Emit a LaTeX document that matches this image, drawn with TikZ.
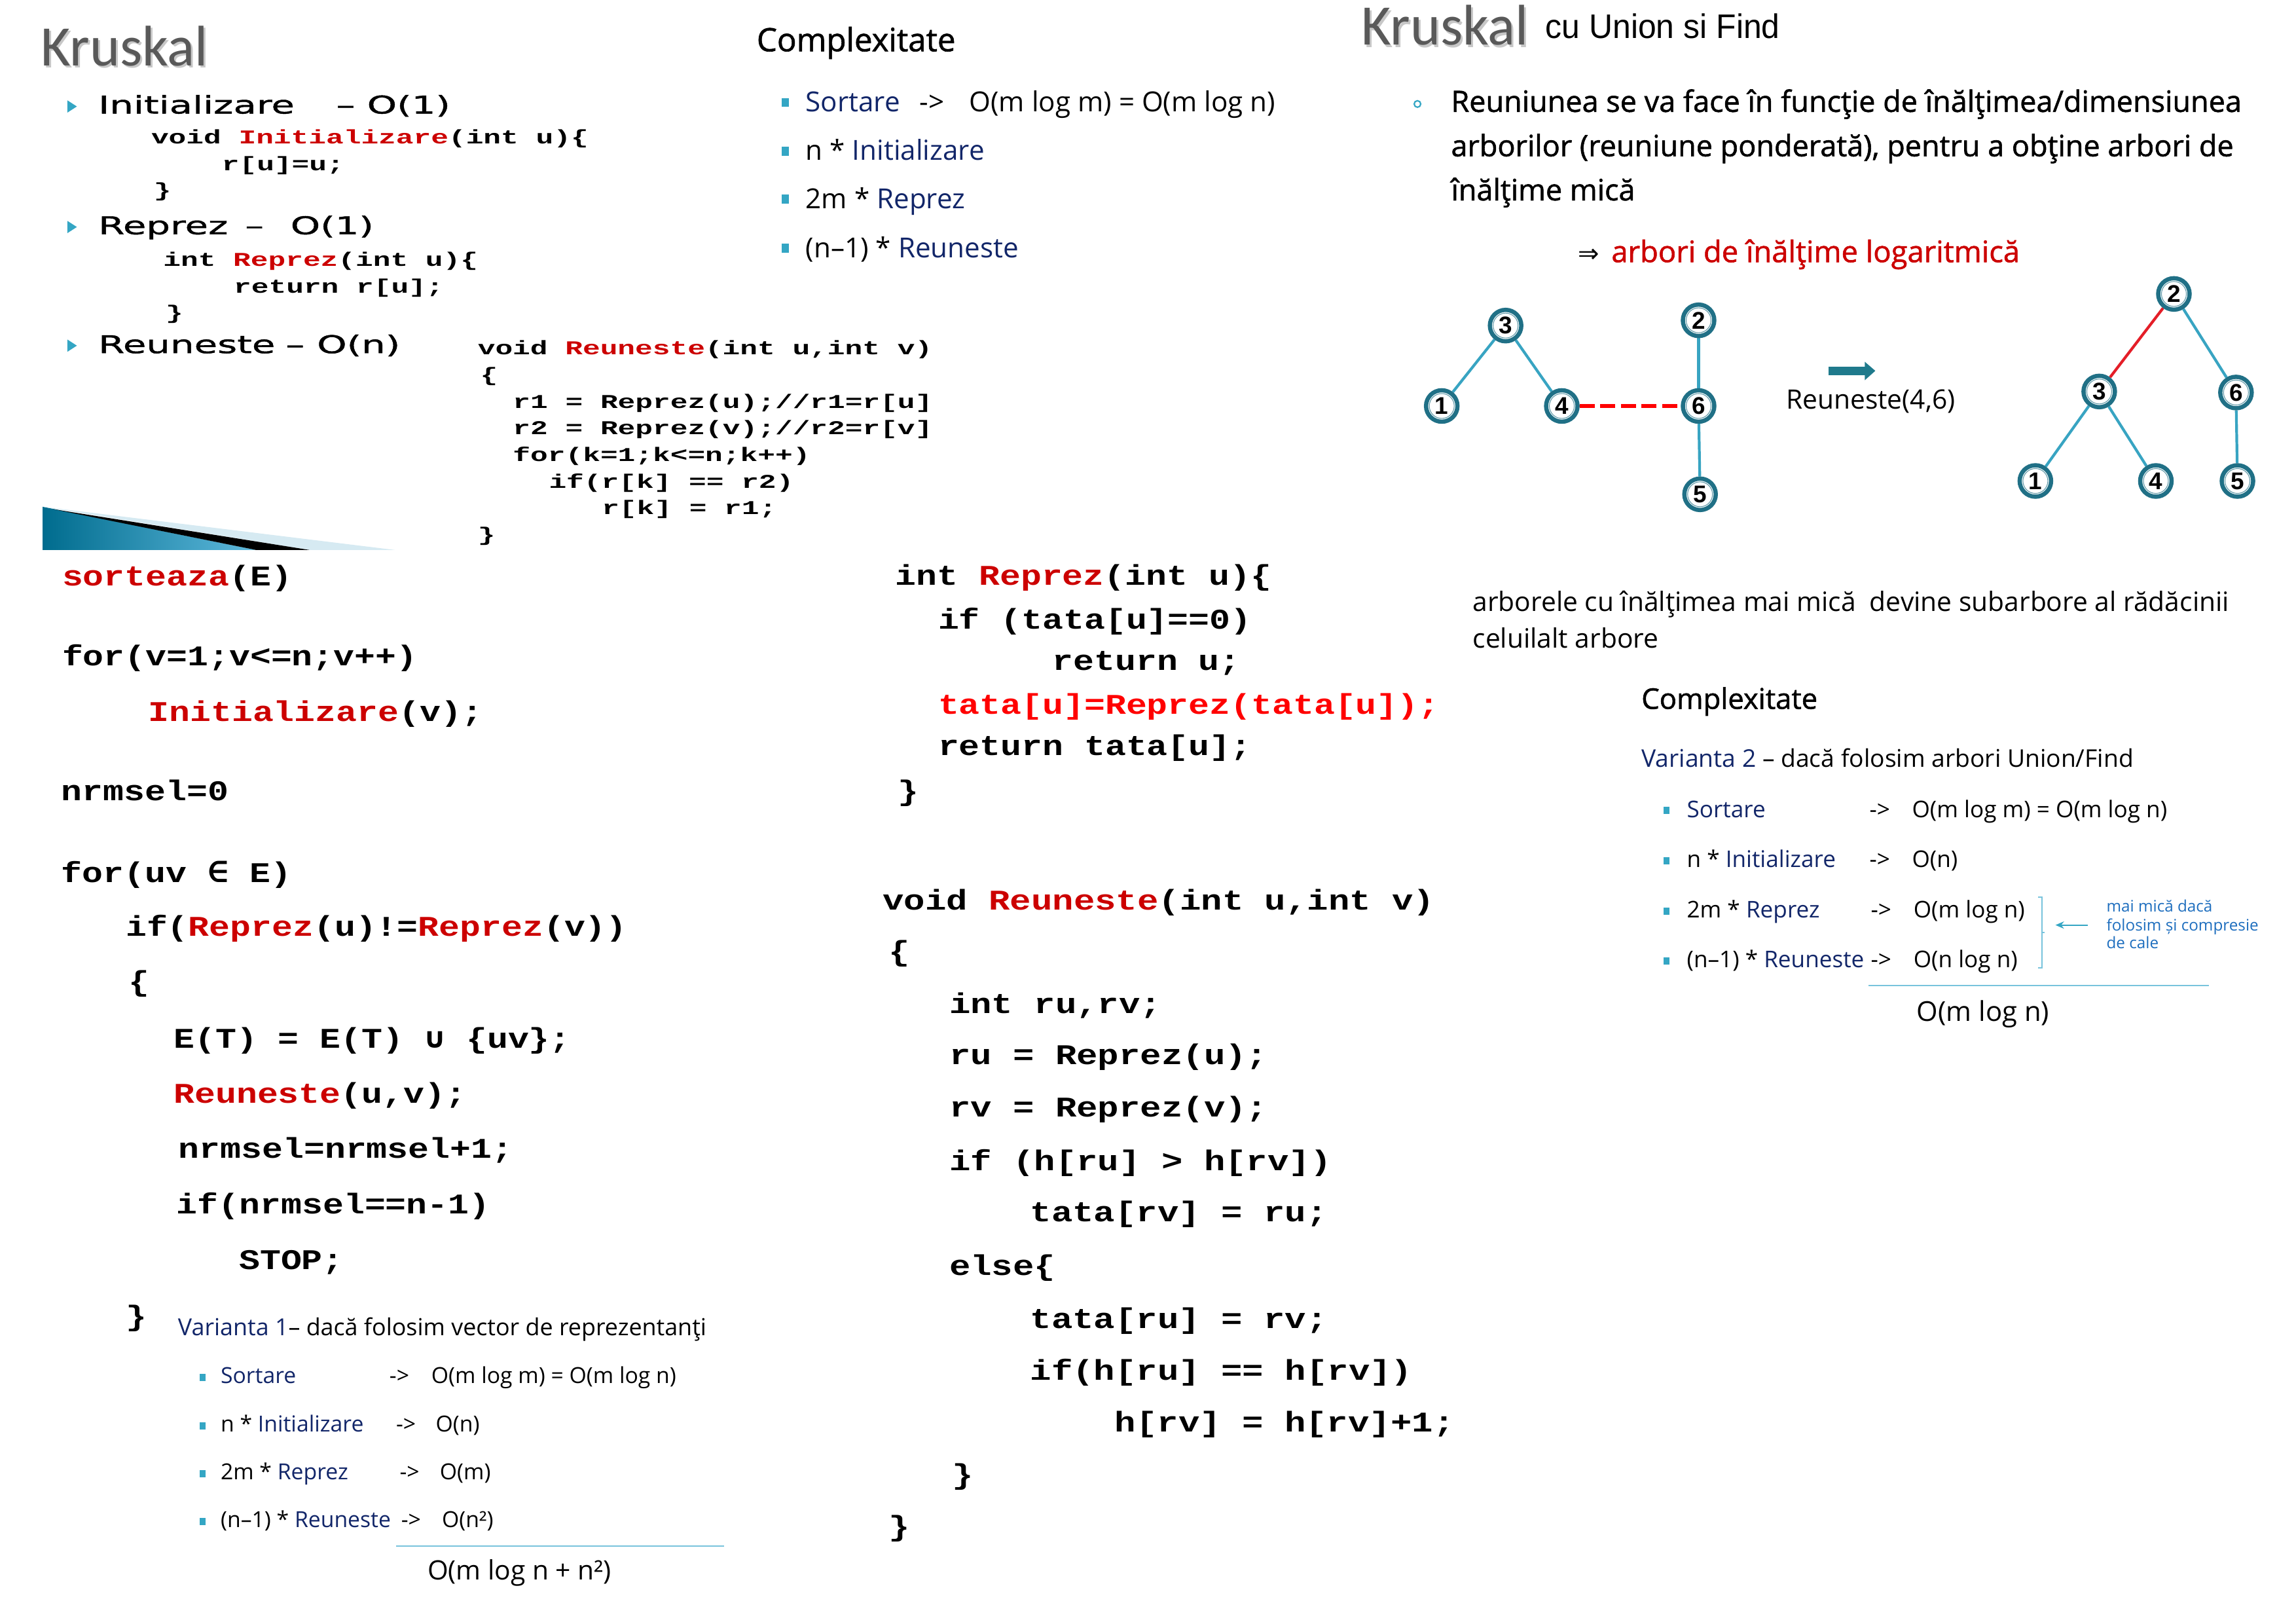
\documentclass[tikz,border=0pt]{standalone}
\usepackage{fontspec}
\setmainfont{Open Sans}
\newfontfamily\osans{Open Sans}
\newfontfamily\osansb[FakeBold=1.3]{Open Sans}
\newfontfamily\tfont{Carlito}
\newfontfamily\hfont[FakeStretch=1.55,FakeBold=1.2]{DejaVu Sans}
\newfontfamily\scode[FakeStretch=1.49]{Liberation Mono}
\newfontfamily\lcode[FakeStretch=1.22]{Liberation Mono}
\newfontfamily\lsym[FakeStretch=1.22]{DejaVu Sans Mono}
\newfontfamily\mcode[FakeStretch=1.24]{Liberation Mono}
\newfontfamily\asans{Liberation Sans}
\newfontfamily\asansn[FakeStretch=0.96]{Liberation Sans}
\newfontfamily\djv{DejaVu Sans}
\usetikzlibrary{arrows.meta}
\pgfdeclarelayer{bg}
\pgfsetlayers{bg,main}
\definecolor{codered}{RGB}{204,0,0}
\definecolor{brightred}{RGB}{255,0,0}
\definecolor{navyb}{RGB}{18,38,105}
\definecolor{bullc}{RGB}{52,166,196}
\definecolor{edgec}{RGB}{56,164,194}
\definecolor{ringc}{RGB}{32,112,134}
\definecolor{titlegray}{RGB}{89,89,89}
\definecolor{noteblue}{RGB}{30,110,190}
\definecolor{arrowc}{RGB}{31,122,140}
\definecolor{listline}{RGB}{120,195,220}
\definecolor{wedgeA}{RGB}{0,108,142}
\definecolor{wedgeB}{RGB}{95,185,220}
\definecolor{wedgeC}{RGB}{214,234,242}
\definecolor{redlog}{RGB}{204,0,0}
\begin{document}
\begin{tikzpicture}[x=0.2237mm,y=-0.2237mm,
  txt/.style={anchor=base west,inner sep=0pt,outer sep=0pt},
  ttl/.style={txt,font=\tfont\fontsize{24.9}{24.9}\selectfont,text=titlegray},
  ttlsh/.style={txt,font=\tfont\fontsize{24.9}{24.9}\selectfont,text=black!22},
  hd/.style={txt,font=\hfont\fontsize{10.6}{10.6}\selectfont},
  sc/.style={txt,font=\scode\bfseries\fontsize{8.5}{8.5}\selectfont},
  lc/.style={txt,font=\lcode\bfseries\fontsize{12.4}{12.4}\selectfont},
  mcb/.style={txt,font=\mcode\bfseries\fontsize{12.4}{12.4}\selectfont},
  mhead/.style={txt,font=\osansb\fontsize{14}{14}\selectfont},
  ml/.style={txt,font=\osans\fontsize{12}{12}\selectfont},
  rpara/.style={txt,font=\osansb\fontsize{12.8}{12.8}\selectfont},
  rlog/.style={txt,font=\osansb\fontsize{12.9}{12.9}\selectfont,text=redlog},
  rtxt/.style={txt,font=\osans\fontsize{11.6}{11.6}\selectfont},
  rhead/.style={txt,font=\osansb\fontsize{12.4}{12.4}\selectfont},
  rres/.style={txt,font=\osans\fontsize{11.9}{11.9}\selectfont},
  rl/.style={txt,font=\osans\fontsize{10}{10}\selectfont},
  rv/.style={txt,font=\osans\fontsize{10.6}{10.6}\selectfont},
  note/.style={txt,font=\osans\fontsize{6.9}{6.9}\selectfont,text=noteblue},
  vh/.style={txt,font=\osans\fontsize{10.2}{10.2}\selectfont},
  vl/.style={txt,font=\osans\fontsize{9.6}{9.6}\selectfont},
  vres/.style={txt,font=\osans\fontsize{11.6}{11.6}\selectfont},
  union/.style={txt,font=\asansn\fontsize{14.8}{14.8}\selectfont},
  reun/.style={txt,font=\osans\fontsize{11.6}{11.6}\selectfont},
  sqb/.style={rectangle,fill=bullc,inner sep=0pt,outer sep=0pt,minimum width=1.07mm,minimum height=1.34mm},
  sqbs/.style={rectangle,fill=bullc,inner sep=0pt,outer sep=0pt,minimum width=0.9mm,minimum height=1.1mm},
  gnode/.style={circle,draw=ringc,line width=0.65mm,fill=white,minimum size=4.8mm,inner sep=0pt,
    font=\asans\bfseries\fontsize{10.5}{10.5}\selectfont,
    path picture={\draw[ringc!75,line width=0.1mm] (path picture bounding box.center) circle (1.9mm);}},
  edgeln/.style={draw=edgec,line width=0.42mm},
  thinln/.style={draw=listline,line width=0.25mm}
]
\useasboundingbox (0,0) rectangle (1568,1108.6);

% ---------------- top-left slide ----------------
\node[ttlsh] (k1s) at (29.3,46.2) {Kruskal};
\node[ttl] (k1) at (27.9,44.8) {Kruskal};

\fill[bullc] (46,68.5) -- (52.5,72.7) -- (46,76.9) -- cycle;
\fill[bullc] (46,150.8) -- (52.5,155) -- (46,159.2) -- cycle;
\fill[bullc] (46,231.8) -- (52.5,236) -- (46,240.2) -- cycle;

\node[hd] (h1) at (67.2,77.5) {Initializare};
\node[hd] (h1b) at (229.6,77.5) {– O(1)};
\node[hd] (h2) at (67.2,159.9) {Reprez};
\node[hd] (h2b) at (167.3,159.9) {–};
\node[hd] (h2c) at (198.4,159.9) {O(1)};
\node[hd] (h3) at (67.2,241.1) {Reuneste};
\node[hd] (h3b) at (195.1,241.1) {–};
\node[hd] (h3c) at (216.5,241.1) {O(n)};

\node[sc] (s1) at (103.3,98.1) {void {\color{codered}Initializare}(int u)\{};
\node[sc] (s2) at (151.5,116.3) {r[u]=u;};
\node[sc] (s3) at (105,134.5) {\}};
\node[sc] (s4) at (111.5,181.7) {int {\color{codered}Reprez}(int u)\{};
\node[sc] (s5) at (159.7,199.9) {return r[u];};
\node[sc] (s6) at (113.2,218) {\}};
\node[sc] (s7) at (326.3,242.3) {void {\color{codered}Reuneste}(int u,int v)};
\node[sc] (s8) at (328,260.5) {\{};
\node[sc] (s9) at (350.3,278.6) {r1 = Reprez(u);//r1=r[u]};
\node[sc] (s10) at (350.3,296.8) {r2 = Reprez(v);//r2=r[v]};
\node[sc] (s11) at (350.3,315) {for(k=1;k<=n;k++)};
\node[sc] (s12) at (374.9,333.2) {if(r[k] == r2)};
\node[sc] (s13) at (411,351.3) {r[k] = r1;};
\node[sc] (s14) at (326.3,369.5) {\}};

% decorative wedge
\shade[left color=wedgeA,right color=wedgeB] (29.2,346) -- (174.8,375.5) -- (29.2,375.5) -- cycle;
\fill[wedgeC] (29.2,346) -- (269.6,375.5) -- (211.3,375.5) -- cycle;
\fill[black] (36,347.6) -- (211.3,375.5) -- (174.8,375.5) -- cycle;

% ---------------- left big code ----------------
\node[lc] (c1) at (42.5,400.1) {{\color{codered}sorteaza}(E)};
\node[lc] (c2) at (42.5,454.5) {for(v=1;v<=n;v++)};
\node[lc] (c3) at (101.3,492.5) {{\color{codered}Initializare}(v);};
\node[lc] (c4) at (42,546.5) {nrmsel=0};
\node[lc] (c5) at (42,602.5) {for(uv {\lsym ∈} E)};
\node[lc] (c6) at (85.9,639.2) {if({\color{codered}Reprez}(u)!={\color{codered}Reprez}(v))};
\node[lc] (c7) at (87.9,676.6) {\{};
\node[lc] (c8) at (118.7,715.8) {E(T) = E(T) {\lsym ∪} \{uv\};};
\node[lc] (c9) at (118.7,753.3) {{\color{codered}Reuneste}(u,v);};
\node[lc] (c10) at (122,790.7) {nrmsel=nrmsel+1;};
\node[lc] (c11) at (120.7,828.8) {if(nrmsel==n-1)};
\node[lc] (c12) at (163.3,866.6) {STOP;};
\node[lc] (c13) at (86,905) {\}};

% Varianta 1
\node[vh] (v1) at (121.6,912) {{\color{navyb}Varianta 1}– dacă folosim vector de reprezentanţi};
\node[sqbs] (vb1) at (138.5,940.5) {};
\node[sqbs] (vb2) at (138.5,973.5) {};
\node[sqbs] (vb3) at (138.5,1006.2) {};
\node[sqbs] (vb4) at (138.5,1038.9) {};
\node[vl] (v11) at (150.7,944.6) {\color{navyb}Sortare};
\node[vl] (v12) at (266,944.6) {->};
\node[vl] (v13) at (294.6,944.6) {O(m log m) = O(m log n)};
\node[vl] (v21) at (150.7,977.6) {n * {\color{navyb}Initializare}};
\node[vl] (v22) at (270.5,977.6) {->};
\node[vl] (v23) at (297.6,977.6) {O(n)};
\node[vl] (v31) at (150.7,1010.3) {2m * {\color{navyb}Reprez}};
\node[vl] (v32) at (273,1010.3) {->};
\node[vl] (v33) at (300.4,1010.3) {O(m)};
\node[vl] (v41) at (150.7,1043) {(n–1) * {\color{navyb}Reuneste}};
\node[vl] (v42) at (274,1043) {->};
\node[vl] (v43) at (301.8,1043) {O(n²)};
\coordinate (v1la) at (270.5,1055.5);
\coordinate (v1lb) at (494.5,1055.5);
\draw[thinln] (v1la) -- (v1lb);
\node[vres] (v1r) at (292,1078.8) {O(m log n + n²)};

% ---------------- middle ----------------
\node[mhead] (mc) at (516.8,35) {Complexitate};
\node[sqb] (mb1) at (536.4,70) {};
\node[sqb] (mb2) at (536.4,103.2) {};
\node[sqb] (mb3) at (536.4,136) {};
\node[sqb] (mb4) at (536.4,169.5) {};
\node[ml] (m11) at (550.3,76.3) {\color{navyb}Sortare};
\node[ml] (m12) at (628,76.3) {->};
\node[ml] (m13) at (662,76.3) {O(m log m) = O(m log n)};
\node[ml] (m2) at (550.3,109.5) {n * {\color{navyb}Initializare}};
\node[ml] (m3) at (550.3,142.3) {2m * {\color{navyb}Reprez}};
\node[ml] (m4) at (550.3,175.8) {(n–1) * {\color{navyb}Reuneste}};

\node[lc] (p1) at (611.5,399.4) {int {\color{codered}Reprez}(int u)\{};
\node[lc] (p2) at (640.7,429.5) {if (tata[u]==0)};
\node[lc] (p3) at (718.8,457.8) {return u;};
\node[lc] (p4) at (640.7,487.4) {\color{brightred}tata[u]=Reprez(tata[u]);};
\node[lc] (p5) at (640.7,515.7) {return tata[u];};
\node[lc] (p6) at (613.1,546.7) {\}};

\node[mcb] (q1) at (602.8,621.1) {void {\color{codered}Reuneste}(int u,int v)};
\node[mcb] (q2) at (606.9,656.2) {\{};
\node[mcb] (q3) at (648.3,691.8) {int ru,rv;};
\node[mcb] (q4) at (648.3,726.9) {ru = Reprez(u);};
\node[mcb] (q5) at (648.3,762.5) {rv = Reprez(v);};
\node[mcb] (q6) at (648.3,799) {if (h[ru] > h[rv])};
\node[mcb] (q7) at (703.6,834.2) {tata[rv] = ru;};
\node[mcb] (q8) at (648.3,870.6) {else\{};
\node[mcb] (q9) at (703.6,907.1) {tata[ru] = rv;};
\node[mcb] (q10) at (703.6,942.3) {if(h[ru] == h[rv])};
\node[mcb] (q11) at (761.3,977.8) {h[rv] = h[rv]+1;};
\node[mcb] (q12) at (650.2,1013.4) {\}};
\node[mcb] (q13) at (606.9,1048.5) {\}};

% ---------------- right ----------------
\node[ttlsh] (k2s) at (931.2,32.2) {Kruskal};
\node[ttl] (k2) at (929.8,30.8) {Kruskal};
\node[union] (cu) at (1055.5,26.2) {cu Union si Find};

\draw[bullc,line width=0.22mm] (968,71) circle (0.5mm);
\node[rpara] (r1) at (991,76.4) {Reuniunea se va face în funcţie de înălţimea/dimensiunea};
\node[rpara] (r2) at (991,106.7) {arborilor (reuniune ponderată), pentru a obţine arbori de};
\node[rpara] (r3) at (991,136.8) {înălţime mică};
\node[txt,font=\djv\fontsize{11}{11}\selectfont] (impl) at (1077.6,179) {⇒};
\node[rlog] (rlog) at (1100.5,179) {arbori de înălţime logaritmică};

% left tree
\node[gnode] (L3) at (1028.2,222.3) {3};
\node[gnode] (L1) at (984.6,277.2) {1};
\node[gnode] (L4) at (1066.6,277.2) {4};
\node[gnode] (L2) at (1160,218.7) {2};
\node[gnode] (L6) at (1160,277.2) {6};
\node[gnode] (L5) at (1161,337.5) {5};
% right tree
\node[gnode] (R2) at (1484.6,200.7) {2};
\node[gnode] (R3) at (1433.6,267.3) {3};
\node[gnode] (R6) at (1527,268) {6};
\node[gnode] (R1) at (1390,328.4) {1};
\node[gnode] (R4) at (1472.3,328.4) {4};
\node[gnode] (R5) at (1528,328.4) {5};
\begin{pgfonlayer}{bg}
\draw[edgeln] (L3) -- (L1);
\draw[edgeln] (L3) -- (L4);
\draw[edgeln] (L2) -- (L6);
\draw[edgeln] (L6) -- (L5);
\draw[draw=brightred,line width=0.6mm,dash pattern=on 2.3mm off 0.85mm] (L4) -- (L6);
\draw[draw={rgb,255:red,228;green,30;blue,40},line width=0.42mm] (R2) -- (R3);
\draw[edgeln] (R2) -- (R6);
\draw[edgeln] (R3) -- (R1);
\draw[edgeln] (R3) -- (R4);
\draw[edgeln] (R6) -- (R5);
\end{pgfonlayer}

\fill[arrowc] (1248.6,250.3) rectangle (1274,256.1);
\fill[arrowc] (1273.5,247) -- (1280.7,253.2) -- (1273.5,259.6) -- cycle;
\node[reun] (reu) at (1219.7,279.4) {Reuneste(4,6)};

\node[rtxt] (a1) at (1005.8,417.5) {arborele cu înălţimea mai mică\ \ devine subarbore al rădăcinii};
\node[rtxt] (a2) at (1005.8,442.6) {celuilalt arbore};
\node[rhead] (rc) at (1121,484) {Complexitate};
\node[rv] (rv2) at (1121,523.6) {{\color{navyb}Varianta 2} – dacă folosim arbori Union/Find};
\node[sqbs] (rb1) at (1138,553.5) {};
\node[sqbs] (rb2) at (1138,587.5) {};
\node[sqbs] (rb3) at (1138,622.3) {};
\node[sqbs] (rb4) at (1138,656.2) {};
\node[rl] (r11) at (1152,558) {\color{navyb}Sortare};
\node[rl] (r12) at (1276.7,558) {->};
\node[rl] (r13) at (1305.8,558) {O(m log m) = O(m log n)};
\node[rl] (r21) at (1152,592) {n * {\color{navyb}Initializare}};
\node[rl] (r22) at (1276.7,592) {->};
\node[rl] (r23) at (1305.8,592) {O(n)};
\node[rl] (r31) at (1152,626.8) {2m * {\color{navyb}Reprez}};
\node[rl] (r32) at (1277.6,626.8) {->};
\node[rl] (r33) at (1306.8,626.8) {O(m log n)};
\node[rl] (r41) at (1152,660.7) {(n–1) * {\color{navyb}Reuneste}};
\node[rl] (r42) at (1277.6,660.7) {->};
\node[rl] (r43) at (1306.8,660.7) {O(n log n)};

\draw[draw=listline,line width=0.22mm] (1392,612.4) -- (1394.5,612.4) -- (1394.5,660.7) -- (1392,660.7);
\draw[draw=listline,line width=0.22mm] (1394.5,636.6) -- (1396.3,636.6);
\coordinate (na) at (1426,631.6);
\coordinate (nb) at (1403.7,631.6);
\draw[draw=bullc,line width=0.22mm,-{Stealth[length=1.3mm,width=1.1mm]}] (na) -- (nb);
\node[note] (n1) at (1438.6,622.7) {mai mică dacă};
\node[note] (n2) at (1438.6,635.7) {folosim și compresie};
\node[note] (n3) at (1438.6,647.8) {de cale};

\coordinate (rla) at (1276,672.8);
\coordinate (rlb) at (1508.7,672.8);
\draw[thinln] (rla) -- (rlb);
\node[rres] (rres) at (1309,697.4) {O(m log n)};
\end{tikzpicture}
\end{document}
